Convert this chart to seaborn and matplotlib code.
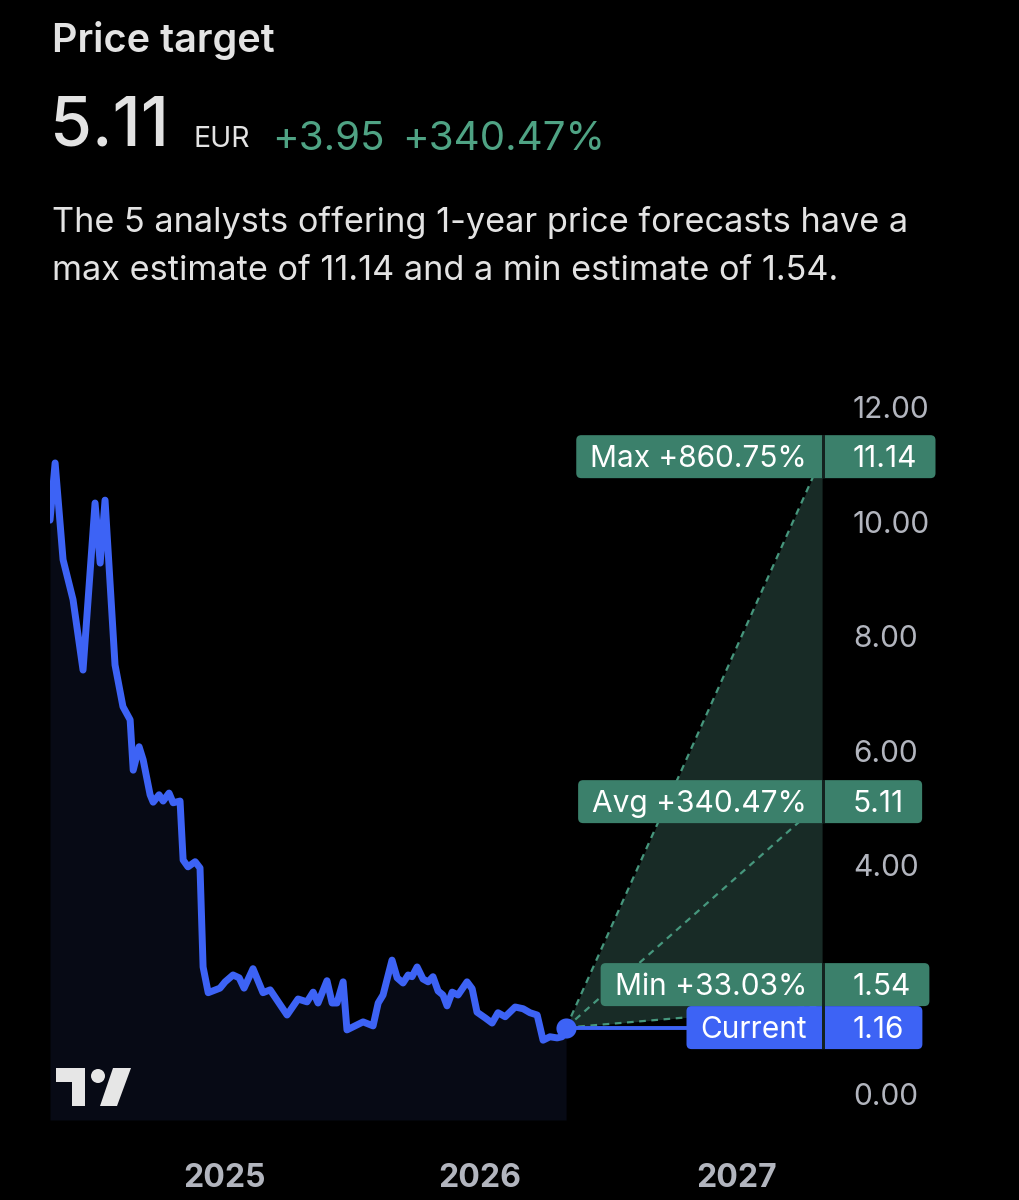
import matplotlib
matplotlib.use("Agg")
import numpy as np
import pandas as pd
import matplotlib.pyplot as plt
from matplotlib.patches import FancyBboxPatch, Rectangle, Circle, Polygon
from matplotlib.transforms import IdentityTransform
import seaborn as sns

# price history (time as decimal year, price in EUR)
years = [2024.320, 2024.340, 2024.371, 2024.410, 2024.449, 2024.496, 2024.516, 2024.535,
         2024.574, 2024.605, 2024.633, 2024.645, 2024.668, 2024.684, 2024.711, 2024.723,
         2024.746, 2024.762, 2024.785, 2024.801, 2024.828, 2024.840, 2024.859, 2024.887,
         2024.906, 2024.918, 2024.938, 2024.984, 2025.004, 2025.035, 2025.059, 2025.078,
         2025.113, 2025.152, 2025.180, 2025.246, 2025.289, 2025.324, 2025.348, 2025.367,
         2025.402, 2025.422, 2025.441, 2025.465, 2025.480, 2025.543, 2025.582, 2025.602,
         2025.621, 2025.656, 2025.676, 2025.699, 2025.719, 2025.734, 2025.754, 2025.777,
         2025.797, 2025.816, 2025.836, 2025.855, 2025.871, 2025.891, 2025.914, 2025.949,
         2025.969, 2025.988, 2026.020, 2026.047, 2026.070, 2026.098, 2026.137, 2026.168,
         2026.195, 2026.223, 2026.246, 2026.273, 2026.301, 2026.320, 2026.336]
prices = [10.03, 11.03, 9.34, 8.64, 7.41, 10.33, 9.28, 10.38,
          7.50, 6.77, 6.54, 5.66, 6.07, 5.84, 5.23, 5.10,
          5.23, 5.12, 5.26, 5.09, 5.12, 4.09, 3.97, 4.06,
          3.95, 2.22, 1.77, 1.85, 1.96, 2.08, 2.03, 1.85,
          2.19, 1.77, 1.82, 1.38, 1.66, 1.61, 1.78, 1.59,
          1.98, 1.59, 1.59, 1.96, 1.12, 1.26, 1.19, 1.59,
          1.73, 2.34, 2.03, 1.94, 2.08, 2.05, 2.22, 2.01,
          1.96, 2.05, 1.80, 1.73, 1.54, 1.78, 1.73, 1.96,
          1.84, 1.43, 1.33, 1.24, 1.42, 1.35, 1.52, 1.49,
          1.42, 1.38, 0.94, 1.00, 0.98, 1.00, 1.16]

current_price = 1.16
target_max = 11.14
target_avg = 5.11
target_min = 1.54
horizon = 1.0  # one-year forecast

label_names = ["Max +860.75%", "Avg +340.47%", "Min +33.03%", "Current"]
label_values = [target_max, target_avg, target_min, current_price]

y_ticks = [0, 4, 6, 8, 10, 12]   # 2.00 is hidden behind the labels in the app
x_ticks = [2025, 2026, 2027]
x_labels = ["2025", "2026", "2027"]

title = "Price target"
big_value = "5.11"
currency = "EUR"
change_abs = "+3.95"
change_pct = "+340.47%"
desc_lines = ["The 5 analysts offering 1-year price forecasts have a",
              "max estimate of 11.14 and a min estimate of 1.54."]

# colours
BG = "#000000"
BLUE = "#3d63f5"
GREEN_BOX = "#3b806b"
GREEN_TXT = "#4fa384"
FAN = "#182b26"
DASH = "#46977d"
TICK = "#b2b5be"
TEXT = "#e3e3e3"

W, H = 1019, 1200

sns.set_theme(style="dark")
plt.rcParams["font.family"] = ["Inter", "DejaVu Sans"]

fig = plt.figure(figsize=(W / 100, H / 100), dpi=100, facecolor=BG)


def fig_xy(px, py):
    # pixel from top-left -> display coords (bottom-left origin)
    return px, H - py


ax = fig.add_axes([50 / W, 1 - 1120 / H, (824 - 50) / W, (1120 - 380) / H])
ax.set_facecolor(BG)
for s in ax.spines.values():
    s.set_visible(False)
ax.grid(False)

x_min = years[0]
x_max = years[0] + (824 - 50) / 256
y_lo, y_hi = -0.455, 12.48
ax.set_xlim(x_min, x_max)
ax.set_ylim(y_lo, y_hi)

df = pd.DataFrame({"year": years, "price": prices})

# area under the price line
ax.fill_between(df["year"], df["price"], y_lo, color="#070a15", lw=0, zorder=1)

# forecast fan
t_cur = years[-1]
t_end = t_cur + horizon
ax.fill_between([t_cur, t_end], [current_price, target_min], [current_price, target_max],
                color=FAN, lw=0, zorder=1)
for tgt in (target_max, target_avg, target_min):
    ax.plot([t_cur, t_end], [current_price, tgt], color=DASH, lw=1.6,
            ls=(0, (3, 2.5)), zorder=2)
ax.plot([t_cur, t_end], [current_price, current_price], color=BLUE, lw=2.8, zorder=3)

sns.lineplot(data=df, x="year", y="price", color=BLUE, linewidth=5, ax=ax, zorder=4,
             solid_joinstyle="round", solid_capstyle="round")
ax.scatter([t_cur], [current_price], s=210, color=BLUE, zorder=5, lw=0)

# axes ticks
ax.yaxis.tick_right()
ax.set_yticks(y_ticks)
ax.set_yticklabels([f"{v:.2f}" for v in y_ticks])
ax.set_xticks(x_ticks)
ax.set_xticklabels(x_labels, fontweight="bold")
ax.tick_params(axis="y", length=0, pad=20.9, labelsize=21.5, labelcolor=TICK)
ax.tick_params(axis="x", length=0, pad=31, labelsize=23, labelcolor=TICK)
ax.set_xlabel("")
ax.set_ylabel("")

# header texts
idt = IdentityTransform()
fig.text(*fig_xy(52, 52), title, transform=idt, fontsize=28.5, fontweight="semibold",
         color=TEXT, va="baseline")
fig.text(*fig_xy(50, 145), big_value, transform=idt, fontsize=49, fontweight="medium",
         color=TEXT, va="baseline")
fig.text(*fig_xy(194, 147), currency, transform=idt, fontsize=20.5, color=TEXT, va="baseline")
fig.text(*fig_xy(272, 150), change_abs, transform=idt, fontsize=29, color=GREEN_TXT, va="baseline")
fig.text(*fig_xy(402, 150), change_pct, transform=idt, fontsize=29, color=GREEN_TXT, va="baseline")
fig.text(*fig_xy(52, 232), desc_lines[0], transform=idt, fontsize=24.7, color=TEXT, va="baseline")
fig.text(*fig_xy(52, 280), desc_lines[1], transform=idt, fontsize=24.7, color=TEXT, va="baseline")

# label boxes on the right
fig.canvas.draw()
renderer = fig.canvas.get_renderer()
box_h = 43
label_fs = 21.5
centers = [ax.transData.transform((t_end, v))[1] for v in label_values]
# min label is pushed up so it sits on top of the current label
if centers[2] - centers[3] < box_h:
    centers[2] = centers[3] + box_h
for i, (name, val, cy) in enumerate(zip(label_names, label_values, centers)):
    col = BLUE if name == "Current" else GREEN_BOX
    base = cy - label_fs * 100 / 72 * 0.36
    t1 = fig.text(807, base, name, transform=idt, fontsize=label_fs, color="white",
                  ha="right", va="baseline", zorder=8)
    t2 = fig.text(853, base, f"{val:.2f}", transform=idt, fontsize=label_fs, color="white",
                  ha="left", va="baseline", zorder=8)
    b1 = t1.get_window_extent(renderer)
    b2 = t2.get_window_extent(renderer)
    x0 = b1.x0 - 14
    x1 = b2.x1 + 18
    fig.add_artist(FancyBboxPatch((x0, cy - box_h / 2), x1 - x0, box_h,
                                  boxstyle="round,pad=0,rounding_size=5",
                                  transform=idt, fc=col, ec="none", zorder=6))
    fig.add_artist(Rectangle((822, cy - box_h / 2), 3, box_h, transform=idt,
                             fc="#142320", ec="none", zorder=7))

# tradingview logo
logo = "#e6e6e6"
fig.add_artist(Rectangle(fig_xy(56, 1082), 29, 14, transform=idt, fc=logo, ec="none"))
fig.add_artist(Rectangle(fig_xy(72, 1106), 13, 38, transform=idt, fc=logo, ec="none"))
fig.add_artist(Circle(fig_xy(98, 1076), 7, transform=idt, fc=logo, ec="none"))
fig.add_artist(Polygon([fig_xy(100, 1106), fig_xy(117, 1106), fig_xy(131, 1068), fig_xy(113, 1068)],
                       closed=True, transform=idt, fc=logo, ec="none"))

fig.savefig("out.png", dpi=100, facecolor=BG)
